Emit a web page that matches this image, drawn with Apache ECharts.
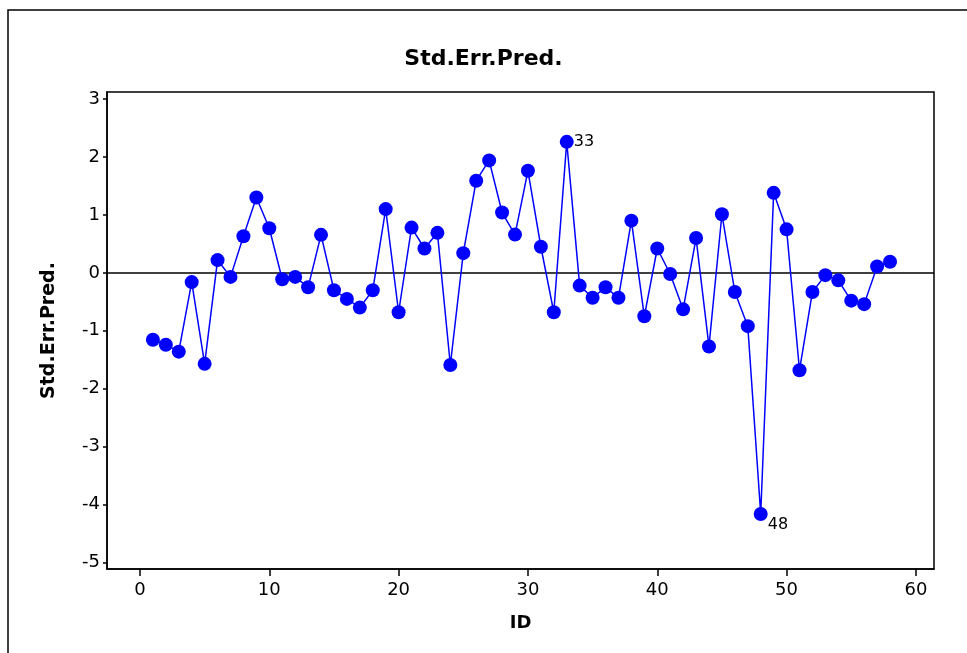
<!DOCTYPE html>
<html>
<head>
<meta charset="utf-8">
<script src="https://cdn.jsdelivr.net/npm/echarts@6/dist/echarts.min.js"></script>
<style>html,body{margin:0;padding:0;background:#fff}#c{width:967px;height:653px}</style>
</head>
<body>
<div id="c"></div>
<script>
var ids = [];
for (var i = 1; i <= 58; i++) ids.push(i);
var values = [-1.155, -1.24, -1.36, -0.16, -1.57, 0.22, -0.07, 0.63, 1.30, 0.77,
  -0.11, -0.07, -0.25, 0.655, -0.30, -0.45, -0.60, -0.30, 1.10, -0.68,
  0.78, 0.42, 0.69, -1.59, 0.34, 1.59, 1.94, 1.04, 0.66, 1.76,
  0.45, -0.68, 2.26, -0.22, -0.43, -0.25, -0.43, 0.90, -0.75, 0.42,
  -0.02, -0.63, 0.60, -1.27, 1.01, -0.33, -0.92, -4.16, 1.38, 0.75,
  -1.68, -0.33, -0.04, -0.13, -0.48, -0.54, 0.11, 0.19];
var labelledIds = [33, 48];
var xTicks = [0, 10, 20, 30, 40, 50, 60];
var yTicks = [-5, -4, -3, -2, -1, 0, 1, 2, 3];
var titleText = 'Std.Err.Pred.';
var xName = 'ID';
var yName = 'Std.Err.Pred.';

var data = ids.map(function (id, k) {
  var item = { value: [id, values[k]] };
  if (id === 33) {
    item.label = { show: true, position: 'right', distance: 0, formatter: String(id) };
  } else if (id === 48) {
    item.label = { show: true, position: 'bottomRight', distance: 2, formatter: String(id),
      offset: [14, 10] };
  }
  return item;
});

var font = 'DejaVu Sans';
var chart = echarts.init(document.getElementById('c'));
chart.setOption({
  animation: false,
  backgroundColor: '#fff',
  title: {
    text: titleText, left: 'center', top: 43,
    textStyle: { fontFamily: font, fontWeight: 'bold', fontSize: 22, color: '#000' }
  },
  graphic: [{
    type: 'rect', shape: { x: 8, y: 10, width: 980, height: 700 },
    style: { fill: 'none', stroke: '#000', lineWidth: 1.5 }, silent: true
  }],
  grid: { left: 107, top: 92, right: 33, bottom: 84, show: true, borderColor: '#000', borderWidth: 1.5 },
  xAxis: {
    type: 'value', min: -2.55, max: 61.4, interval: 10,
    name: xName, nameLocation: 'middle', nameGap: 45,
    nameTextStyle: { fontFamily: font, fontWeight: 'bold', fontSize: 18, color: '#000' },
    axisLine: { show: true, onZero: false, lineStyle: { color: '#000', width: 1.5 } },
    axisTick: { show: true, length: 7, lineStyle: { color: '#000', width: 1.5 }, customValues: xTicks },
    axisLabel: { margin: 12, fontFamily: font, fontSize: 18, color: '#000', customValues: xTicks,
      showMinLabel: true, showMaxLabel: true },
    splitLine: { show: false }
  },
  yAxis: {
    type: 'value', min: -5.11, max: 3.12, interval: 1,
    name: yName, nameLocation: 'middle', nameGap: 48,
    nameTextStyle: { fontFamily: font, fontWeight: 'bold', fontSize: 19, color: '#000' },
    axisLine: { show: true, onZero: false, lineStyle: { color: '#000', width: 1.5 } },
    axisTick: { show: true, length: 4, lineStyle: { color: '#000', width: 1.5 }, customValues: yTicks },
    axisLabel: { margin: 7, fontFamily: font, fontSize: 18, color: '#000', customValues: yTicks },
    splitLine: { show: false }
  },
  series: [{
    type: 'line', data: data,
    symbol: 'circle', symbolSize: 14,
    lineStyle: { color: '#0000ff', width: 1.5 },
    itemStyle: { color: '#0000ff' },
    label: { show: false, fontFamily: font, fontSize: 16, color: '#000' },
    z: 3,
    markLine: {
      silent: true, symbol: 'none', label: { show: false },
      lineStyle: { color: '#000', width: 1.5, type: 'solid' },
      data: [{ yAxis: 0 }], z: 2
    }
  }]
});
</script>
</body>
</html>
